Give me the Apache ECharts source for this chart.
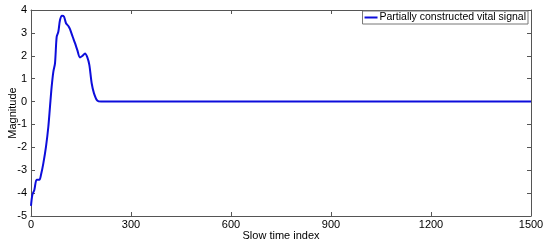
<!DOCTYPE html>
<html>
<head>
    <meta charset="UTF-8">
    <title>Partially constructed vital signal</title>
    <script src="https://cdn.jsdelivr.net/npm/echarts@6/dist/echarts.min.js"></script>
    <style>
        html, body { margin: 0; padding: 0; background: #fff; }
        #chart { width: 550px; height: 246px; }
    </style>
</head>
<body>
    <div id="chart"></div>
    <script>
        // slow time index / magnitude
        const slowTime = [0, 4, 10, 17, 25, 30, 37, 45, 52, 57, 62, 67, 72, 77, 82, 87, 93, 99, 105, 112, 117, 125, 132, 139, 147, 155, 162, 169, 175, 182, 189, 199, 210, 1500];
        const magnitude = [-4.56, -4.08, -3.86, -3.42, -3.42, -3.2, -2.7, -1.97, -1.1, -0.22, 0.65, 1.3, 1.67, 2.83, 3.05, 3.56, 3.75, 3.71, 3.42, 3.3, 3.16, 2.83, 2.55, 2.25, 1.93, 2.0, 2.1, 1.93, 1.6, 0.8, 0.36, 0.04, 0, 0];
        const seriesName = 'Partially constructed vital signal';

        const chart = echarts.init(document.getElementById('chart'));
        const boxColor = '#555';
        const font = 'Liberation Sans, Arial, sans-serif';

        const hiddenAxis = {
            axisLine: { show: true, onZero: false, lineStyle: { color: boxColor } },
            axisTick: { show: true, inside: true, length: 4, lineStyle: { color: boxColor } },
            axisLabel: { show: false },
            splitLine: { show: false }
        };

        chart.setOption({
            animation: false,
            grid: { left: 31, right: 19, top: 10, bottom: 30, containLabel: false, outerBoundsMode: 'none' },
            legend: {
                data: [seriesName],
                right: 22,
                top: 11,
                icon: 'rect',
                itemWidth: 13,
                itemHeight: 2,
                itemGap: 2,
                padding: [1, 2, 1, 2],
                borderColor: '#777',
                borderWidth: 1,
                backgroundColor: '#fff',
                textStyle: { fontFamily: font, fontSize: 10.5, color: '#000', padding: [0, 0, 0, -3] }
            },
            xAxis: [{
                type: 'value', min: 0, max: 1500, interval: 300,
                name: 'Slow time index', nameLocation: 'middle', nameGap: 14, nameMoveOverlap: false,
                nameTextStyle: { fontFamily: font, fontSize: 11, color: '#000' },
                axisLine: { onZero: false, lineStyle: { color: boxColor } },
                axisTick: { inside: true, length: 4, lineStyle: { color: boxColor } },
                axisLabel: { fontFamily: font, fontSize: 11, color: '#000', margin: 3, formatter: v => String(v) },
                splitLine: { show: false }
            }, Object.assign({ type: 'value', min: 0, max: 1500, interval: 300, position: 'top' }, hiddenAxis)],
            yAxis: [{
                type: 'value', min: -5, max: 4, interval: 1,
                name: 'Magnitude', nameLocation: 'middle', nameGap: 13, nameMoveOverlap: false,
                nameTextStyle: { fontFamily: font, fontSize: 11, color: '#000' },
                axisLine: { show: true, onZero: false, lineStyle: { color: boxColor } },
                axisTick: { show: true, inside: true, length: 4, lineStyle: { color: boxColor } },
                axisLabel: { fontFamily: font, fontSize: 11, color: '#000', margin: 4 },
                splitLine: { show: false }
            }, Object.assign({ type: 'value', min: -5, max: 4, interval: 1, position: 'right' }, hiddenAxis)],
            series: [{
                name: seriesName,
                type: 'line',
                smooth: 0.3,
                showSymbol: false,
                data: slowTime.map((t, i) => [t, magnitude[i]]),
                lineStyle: { color: '#0d0ddb', width: 2 },
                itemStyle: { color: '#0d0ddb' }
            }]
        });
    </script>
</body>
</html>
